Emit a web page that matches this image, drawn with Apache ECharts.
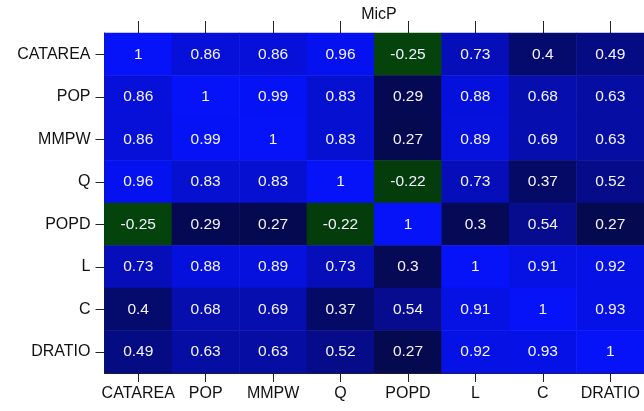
<!DOCTYPE html>
<html>
<head>
<meta charset="utf-8">
<script src="https://cdn.jsdelivr.net/npm/echarts@6/dist/echarts.min.js"></script>
<style>
html,body{margin:0;padding:0;background:#fff;}
#chart{width:644px;height:411px;}
</style>
</head>
<body>
<div id="chart"></div>
<script>
const categories = ['CATAREA','POP','MMPW','Q','POPD','L','C','DRATIO'];
const rowCATAREA = [1, 0.86, 0.86, 0.96, -0.25, 0.73, 0.4, 0.49];
const rowPOP     = [0.86, 1, 0.99, 0.83, 0.29, 0.88, 0.68, 0.63];
const rowMMPW    = [0.86, 0.99, 1, 0.83, 0.27, 0.89, 0.69, 0.63];
const rowQ       = [0.96, 0.83, 0.83, 1, -0.22, 0.73, 0.37, 0.52];
const rowPOPD    = [-0.25, 0.29, 0.27, -0.22, 1, 0.3, 0.54, 0.27];
const rowL       = [0.73, 0.88, 0.89, 0.73, 0.3, 1, 0.91, 0.92];
const rowC       = [0.4, 0.68, 0.69, 0.37, 0.54, 0.91, 1, 0.93];
const rowDRATIO  = [0.49, 0.63, 0.63, 0.52, 0.27, 0.92, 0.93, 1];
const title = 'MicP';

const rows = [rowCATAREA,rowPOP,rowMMPW,rowQ,rowPOPD,rowL,rowC,rowDRATIO];
const data = [];
rows.forEach((r, yi) => r.forEach((v, xi) => data.push([xi, yi, v])));

const FONT = 'Liberation Sans, Arial, sans-serif';
const chart = echarts.init(document.getElementById('chart'), null, {renderer:'canvas'});
chart.setOption({
  animation: false,
  backgroundColor: '#ffffff',
  title: {
    text: title, left: 374, top: 2, textAlign: 'center',
    textStyle: {fontFamily: FONT, fontSize: 16, fontWeight: 'normal', color: '#111'}
  },
  grid: {left: 104.5, right: -0.5, top: 33, bottom: 38, containLabel: false},
  visualMap: {
    show: false, type: 'continuous', min: -1, max: 1, dimension: 2,
    inRange: {color: ['#00ff00', '#050510', '#0612f8']}
  },
  xAxis: [
    {
      type: 'category', data: categories, position: 'bottom',
      axisLine: {show: true, lineStyle: {color: '#222', width: 1}},
      axisTick: {show: true, alignWithLabel: true, length: 9, lineStyle: {color: '#222'}},
      axisLabel: {fontFamily: FONT, fontSize: 16, color: '#111', margin: 13, interval: 0},
      splitLine: {show: false}
    },
    {
      type: 'category', data: categories, position: 'top',
      axisLine: {show: true, lineStyle: {color: '#222', width: 1}},
      axisTick: {show: true, alignWithLabel: true, length: 12, interval: 0, lineStyle: {color: '#222'}},
      axisLabel: {show: false}
    }
  ],
  yAxis: {
    type: 'category', data: categories, inverse: true,
    axisLine: {show: true, lineStyle: {color: '#222', width: 1}},
    axisTick: {show: true, alignWithLabel: true, length: 9, interval: 0, lineStyle: {color: '#222'}},
    axisLabel: {fontFamily: FONT, fontSize: 16, color: '#111', margin: 14, interval: 0},
    splitLine: {show: false}
  },
  series: [{
    type: 'heatmap', data: data, xAxisIndex: 0, yAxisIndex: 0,
    label: {
      show: true, color: '#f4f4ff', fontFamily: FONT, fontSize: 15.5,
      formatter: p => String(p.value[2])
    },
    itemStyle: {borderWidth: 0}
  }]
});
</script>
</body>
</html>
